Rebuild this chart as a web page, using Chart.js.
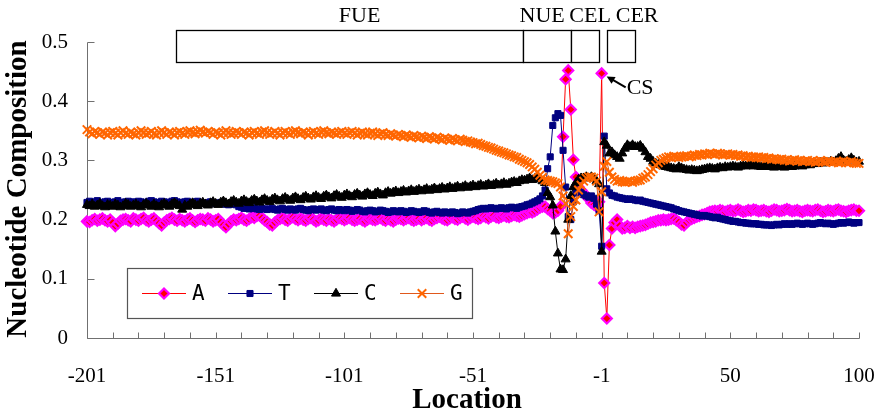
<!DOCTYPE html>
<html><head><meta charset="utf-8">
<script src="https://cdn.jsdelivr.net/npm/chart.js@4/dist/chart.umd.min.js"></script>
<style>html,body{margin:0;padding:0;background:#fff;}canvas{display:block}</style>
</head><body>
<canvas id="c" width="884" height="418"></canvas>
<script>
// Categories: positions -201..-1 and 1..100 (no 0)
const locations = [];
for (let v = -201; v <= 100; v++) if (v !== 0) locations.push(v);
const xTickLabels = [-201, -151, -101, -51, -1, 50, 100];
const yTickValues = [0, 0.1, 0.2, 0.3, 0.4, 0.5];
const seriesNames = ['A', 'T', 'C', 'G'];

const seriesA = [
.197,.196,.199,.201,.198,.200,.202,.199,.197,.200,
.195,.189,.193,.198,.200,.201,.199,.197,.202,.200,
.198,.201,.203,.199,.197,.200,.202,.198,.194,.190,
.195,.199,.201,.203,.200,.198,.201,.199,.197,.200,
.202,.199,.196,.199,.201,.200,.198,.202,.200,.197,
.199,.201,.196,.191,.187,.192,.197,.200,.199,.201,
.203,.200,.198,.201,.204,.203,.206,.207,.203,.199,
.196,.192,.190,.195,.199,.201,.203,.200,.198,.202,
.204,.201,.199,.202,.200,.198,.201,.203,.200,.197,
.199,.202,.200,.198,.201,.199,.197,.200,.203,.201,
.199,.201,.203,.200,.198,.200,.202,.199,.197,.200,
.202,.200,.199,.201,.203,.200,.198,.201,.199,.197,
.200,.202,.201,.199,.201,.203,.200,.198,.200,.202,
.199,.201,.203,.200,.198,.201,.203,.205,.202,.200,
.199,.202,.204,.201,.200,.203,.205,.202,.200,.203,
.205,.203,.201,.203,.206,.204,.202,.205,.207,.204,
.203,.205,.207,.205,.204,.206,.208,.206,.205,.207,
.209,.211,.213,.212,.214,.217,.220,.222,.222,.218,
.215,.211,.212,.215,.222,.340,.437,.452,.386,.301,
.272,.255,.250,.245,.240,.235,.228,.225,.222,.230,
.447,.093,.033,.157,.185,.195,.200,.190,.185,.186,
.189,.186,.188,.186,.188,.189,.190,.191,.193,.195,
.196,.197,.199,.199,.200,.199,.200,.201,.202,.199,
.196,.192,.190,.195,.199,.201,.203,.205,.206,.208,
.209,.211,.213,.214,.215,.214,.216,.215,.213,.215,
.216,.214,.215,.217,.215,.213,.214,.216,.215,.217,
.216,.214,.215,.216,.214,.213,.215,.217,.216,.214,
.215,.216,.218,.216,.214,.215,.216,.214,.213,.215,
.216,.215,.214,.216,.217,.215,.213,.214,.216,.215,
.214,.216,.217,.215,.214,.213,.215,.216,.217,.215,
.215];

const seriesT = [
.229,.231,.228,.230,.232,.229,.227,.230,.231,.229,
.228,.230,.232,.229,.227,.230,.231,.228,.230,.229,
.231,.230,.228,.229,.231,.232,.230,.228,.229,.231,
.230,.228,.229,.231,.232,.230,.228,.229,.230,.231,
.229,.228,.230,.231,.229,.228,.227,.229,.230,.228,
.227,.228,.229,.227,.226,.225,.226,.227,.225,.222,
.221,.219,.220,.218,.219,.220,.218,.217,.219,.218,
.217,.218,.219,.217,.216,.218,.219,.217,.216,.218,
.217,.216,.218,.219,.217,.216,.215,.217,.218,.216,
.217,.218,.216,.215,.217,.218,.216,.215,.217,.216,
.215,.217,.216,.214,.215,.217,.216,.214,.213,.215,
.216,.215,.213,.214,.216,.215,.214,.212,.213,.215,
.214,.213,.215,.214,.212,.213,.215,.214,.213,.212,
.213,.215,.214,.212,.211,.213,.214,.212,.211,.213,
.212,.211,.213,.212,.210,.211,.213,.212,.211,.213,
.214,.215,.217,.218,.219,.218,.219,.220,.219,.218,
.219,.220,.219,.218,.220,.221,.220,.219,.221,.222,
.223,.225,.226,.228,.230,.232,.235,.240,.250,.286,
.306,.359,.372,.379,.376,.317,.255,.205,.200,.230,
.245,.250,.246,.242,.240,.238,.240,.236,.226,.215,
.155,.341,.252,.245,.241,.240,.238,.237,.236,.235,
.234,.235,.234,.233,.232,.233,.231,.230,.229,.228,
.227,.226,.225,.224,.223,.222,.221,.220,.218,.217,
.215,.214,.213,.212,.211,.210,.209,.208,.207,.206,
.207,.206,.205,.204,.203,.204,.202,.201,.200,.199,
.198,.197,.197,.196,.195,.195,.194,.194,.193,.193,
.193,.192,.192,.191,.191,.191,.190,.191,.192,.191,
.192,.193,.192,.193,.192,.193,.194,.193,.192,.193,
.194,.193,.192,.193,.194,.195,.194,.193,.194,.193,
.192,.193,.194,.195,.194,.195,.196,.195,.194,.195,
.195];

const seriesC = [
.225,.223,.226,.222,.224,.227,.223,.221,.225,.224,
.222,.226,.224,.221,.223,.227,.225,.222,.224,.226,
.223,.221,.225,.227,.224,.222,.226,.223,.221,.225,
.227,.224,.222,.226,.228,.225,.223,.217,.224,.222,
.226,.228,.225,.223,.227,.229,.226,.224,.228,.230,
.227,.225,.229,.231,.228,.226,.230,.232,.229,.227,
.231,.233,.230,.228,.232,.234,.231,.229,.233,.235,
.232,.230,.234,.236,.233,.231,.235,.237,.234,.232,
.236,.238,.235,.233,.237,.239,.236,.234,.238,.240,
.237,.235,.239,.241,.238,.236,.240,.242,.239,.237,
.241,.243,.240,.238,.242,.244,.241,.239,.243,.245,
.242,.240,.244,.246,.243,.241,.245,.247,.244,.246,
.248,.245,.247,.249,.246,.248,.250,.247,.249,.251,
.248,.250,.252,.249,.251,.253,.250,.252,.254,.251,
.253,.255,.252,.254,.256,.253,.255,.257,.254,.256,
.258,.255,.257,.259,.256,.258,.260,.257,.259,.261,
.258,.260,.262,.259,.261,.263,.264,.262,.265,.267,
.266,.268,.270,.267,.269,.271,.268,.265,.262,.245,
.238,.224,.180,.143,.116,.115,.133,.200,.240,.255,
.262,.268,.270,.270,.272,.270,.272,.270,.265,.260,
.146,.331,.325,.312,.314,.309,.306,.303,.312,.320,
.326,.323,.326,.323,.323,.325,.320,.314,.306,.303,
.298,.295,.293,.292,.290,.289,.288,.287,.286,.285,
.289,.287,.285,.284,.283,.284,.283,.282,.283,.284,
.285,.286,.287,.286,.285,.287,.288,.287,.289,.288,
.289,.290,.289,.288,.290,.291,.290,.292,.291,.290,
.291,.290,.289,.290,.291,.289,.290,.288,.289,.290,
.289,.288,.290,.291,.289,.290,.292,.291,.290,.292,
.293,.292,.294,.295,.294,.296,.295,.297,.296,.298,
.297,.299,.303,.306,.300,.298,.301,.304,.300,.297,
.298];

const seriesG = [
.352,.348,.345,.349,.347,.344,.348,.346,.343,.347,
.349,.346,.343,.347,.350,.346,.344,.348,.345,.343,
.347,.350,.347,.344,.346,.349,.345,.343,.347,.350,
.347,.344,.348,.346,.343,.347,.349,.346,.344,.348,
.350,.347,.345,.348,.351,.348,.346,.349,.347,.344,
.348,.346,.343,.347,.350,.347,.344,.346,.349,.347,
.344,.348,.346,.343,.347,.349,.346,.344,.348,.350,
.347,.344,.346,.349,.346,.343,.347,.349,.346,.344,
.348,.350,.347,.345,.348,.346,.343,.347,.349,.346,
.344,.348,.350,.347,.345,.348,.346,.344,.347,.349,
.346,.344,.347,.349,.346,.343,.346,.348,.345,.343,
.346,.348,.345,.342,.345,.347,.344,.342,.345,.343,
.341,.344,.342,.340,.343,.341,.339,.342,.340,.338,
.341,.339,.337,.340,.338,.336,.339,.337,.335,.338,
.336,.334,.337,.335,.333,.336,.334,.332,.333,.331,
.330,.328,.329,.327,.325,.324,.322,.321,.319,.317,
.316,.314,.313,.311,.309,.308,.306,.305,.302,.300,
.298,.296,.293,.289,.285,.280,.275,.271,.267,.266,
.265,.264,.262,.261,.255,.240,.227,.176,.205,.222,
.233,.250,.258,.265,.270,.272,.272,.270,.265,.213,
.247,.290,.298,.280,.272,.268,.265,.266,.264,.263,
.264,.265,.263,.265,.266,.267,.270,.272,.276,.281,
.286,.292,.296,.300,.302,.304,.306,.305,.307,.306,
.305,.306,.307,.308,.306,.307,.309,.308,.310,.309,
.311,.310,.312,.311,.310,.312,.311,.309,.310,.311,
.309,.310,.308,.309,.307,.308,.306,.307,.305,.306,
.305,.306,.304,.305,.303,.304,.302,.303,.302,.301,
.302,.300,.301,.299,.300,.301,.299,.300,.298,.299,
.300,.298,.299,.297,.298,.300,.298,.297,.299,.298,
.297,.298,.296,.297,.299,.297,.296,.298,.296,.295,
.295];

// Annotated regions (in location units)
const regions = [
  {label: 'FUE', from: -166.4, to: -31.5},
  {label: 'NUE', from: -31.5, to: -12.9},
  {label: 'CEL', from: -12.9, to: -2},
  {label: 'CER', from: 2.1, to: 13}
];
const csLocation = -1;

const locToIdx = l => l < 0 ? l + 201 : l + 200;
const SERIF = '"Liberation Serif", "Times New Roman", serif';

const styles = [
  {line: '#FF0000', fill: '#FF0000', border: '#FF00FF', style: 'rectRot', r: 5, bw: 2.2},
  {line: '#000080', fill: '#000080', border: '#000080', style: 'rect', r: 4.3, bw: 1},
  {line: '#000000', fill: '#000000', border: '#000000', style: 'triangle', r: 5.2, bw: 1},
  {line: '#E0581C', fill: '#FF6600', border: '#FF6600', style: 'crossRot', r: 6, bw: 2}
];
const allSeries = [seriesA, seriesT, seriesC, seriesG];

const datasets = allSeries.map((d, i) => ({
  label: seriesNames[i],
  data: d,
  borderColor: styles[i].line,
  borderWidth: 1,
  backgroundColor: styles[i].fill,
  pointBackgroundColor: styles[i].fill,
  pointBorderColor: styles[i].border,
  pointBorderWidth: styles[i].bw,
  pointStyle: styles[i].style,
  pointRadius: styles[i].r,
  tension: 0,
  clip: false,
  order: 4 - i
}));

const labelShift = {FUE: 10, NUE: -5, CEL: 5, CER: 16};

const deco = {
  id: 'deco',
  beforeDatasetsDraw(chart) {
    const {ctx, chartArea: ca, scales: {x, y}} = chart;
    ctx.save();
    ctx.strokeStyle = '#707070';
    ctx.lineWidth = 1;
    ctx.beginPath();
    const x0 = Math.round(ca.left) + 0.5, yb = Math.round(ca.bottom) + 0.5;
    ctx.moveTo(x0, Math.round(y.getPixelForValue(0.5)) + 0.5);
    ctx.lineTo(x0, yb);
    ctx.lineTo(Math.round(ca.right) + 0.5, yb);
    for (let i = 0; i < locations.length; i += 10) {
      const px = Math.round(x.getPixelForValue(i)) + 0.5;
      ctx.moveTo(px, yb); ctx.lineTo(px, yb - 6);
    }
    yTickValues.forEach(v => {
      const py = Math.round(y.getPixelForValue(v)) + 0.5;
      ctx.moveTo(x0, py); ctx.lineTo(x0 + 7, py);
    });
    ctx.stroke();
    ctx.restore();
  },
  afterDraw(chart) {
    const {ctx, chartArea: ca, scales: {x, y}} = chart;
    ctx.save();
    // region boxes
    ctx.strokeStyle = '#000'; ctx.lineWidth = 1.3;
    ctx.font = '22px ' + SERIF;
    ctx.textAlign = 'center'; ctx.textBaseline = 'alphabetic';
    const bt = 30, bb = 62;
    regions.forEach(r => {
      const l = x.getPixelForValue(locToIdx(r.from));
      const rr = x.getPixelForValue(locToIdx(r.to));
      ctx.fillStyle = '#fff';
      ctx.fillRect(l, bt, rr - l, bb - bt);
      ctx.strokeRect(Math.round(l) + 0.5, bt + 0.5, Math.round(rr - l), bb - bt);
    });
    ctx.fillStyle = '#000';
    regions.forEach(r => {
      const l = x.getPixelForValue(locToIdx(r.from));
      const rr = x.getPixelForValue(locToIdx(r.to));
      ctx.fillText(r.label, (l + rr) / 2 + labelShift[r.label], 22);
    });
    // CS annotation
    const ci = locToIdx(csLocation);
    const px = x.getPixelForValue(ci), py = y.getPixelForValue(seriesA[ci]);
    const tipX = px + 5, tipY = py + 3, tailX = px + 24, tailY = py + 14;
    ctx.strokeStyle = '#000'; ctx.lineWidth = 2;
    ctx.beginPath(); ctx.moveTo(tailX, tailY); ctx.lineTo(tipX + 4, tipY + 2.3); ctx.stroke();
    const ang = Math.atan2(tipY - tailY, tipX - tailX);
    ctx.beginPath();
    ctx.moveTo(tipX, tipY);
    ctx.lineTo(tipX - 8 * Math.cos(ang) + 4 * Math.sin(ang), tipY - 8 * Math.sin(ang) - 4 * Math.cos(ang));
    ctx.lineTo(tipX - 8 * Math.cos(ang) - 4 * Math.sin(ang), tipY - 8 * Math.sin(ang) + 4 * Math.cos(ang));
    ctx.closePath(); ctx.fill();
    ctx.textAlign = 'left'; ctx.textBaseline = 'middle';
    ctx.fillText('CS', px + 25, py + 15);
    // legend
    const lx = 127, ly = 268, lw = 345, lh = 50;
    ctx.fillStyle = '#fff'; ctx.fillRect(lx, ly, lw, lh);
    ctx.strokeStyle = '#555'; ctx.lineWidth = 1.2;
    ctx.strokeRect(lx + 0.5, ly + 0.5, lw, lh);
    const cy = 293.5;
    [142, 228, 314, 400].forEach((sx, i) => {
      const s = styles[i];
      ctx.strokeStyle = s.line; ctx.lineWidth = 1;
      ctx.beginPath(); ctx.moveTo(sx, cy); ctx.lineTo(sx + 44, cy); ctx.stroke();
      ctx.fillStyle = s.fill; ctx.strokeStyle = s.border; ctx.lineWidth = s.bw;
      Chart.helpers.drawPoint(ctx, {pointStyle: s.style, radius: s.r, borderWidth: s.bw, rotation: 0}, sx + 22, cy);
      ctx.fillStyle = '#000';
      ctx.font = '21px "Liberation Sans Narrow", "DejaVu Sans Mono", monospace';
      ctx.textAlign = 'left'; ctx.textBaseline = 'middle';
      ctx.fillText(seriesNames[i], sx + 50, cy + 1);
    });
    // axis titles
    ctx.fillStyle = '#000';
    ctx.font = 'bold 29px ' + SERIF;
    ctx.textAlign = 'center'; ctx.textBaseline = 'middle';
    ctx.fillText('Location', 467, 401);
    ctx.save();
    ctx.translate(19, 189); ctx.rotate(-Math.PI / 2);
    ctx.fillText('Nucleotide Composition', 0, 0);
    ctx.restore();
    ctx.restore();
  }
};

Chart.defaults.font.family = SERIF;
Chart.defaults.color = '#000';

new Chart(document.getElementById('c'), {
  type: 'line',
  data: {labels: locations, datasets},
  options: {
    responsive: false,
    animation: false,
    events: [],
    layout: {padding: {top: 42, right: 25, left: 0, bottom: 0}},
    plugins: {legend: {display: false}, tooltip: {enabled: false}},
    scales: {
      x: {
        type: 'category',
        offset: false,
        grid: {display: false, drawTicks: false},
        border: {display: false},
        ticks: {
          autoSkip: false, maxRotation: 0, minRotation: 0, padding: 26,
          font: {size: 21, family: SERIF}, color: '#000',
          callback: (v, i) => xTickLabels.includes(locations[i]) ? String(locations[i]) : ''
        },
        afterFit: s => { s.height = 80; s.paddingLeft = 0; s.paddingRight = 0; }
      },
      y: {
        min: 0, max: 0.5,
        grid: {display: false, drawTicks: false},
        border: {display: false},
        ticks: {
          stepSize: 0.1, padding: 19,
          font: {size: 21, family: SERIF}, color: '#000',
          callback: v => { const r = Math.round(v * 10) / 10; return r === 0 ? '0' : r.toFixed(1); }
        },
        afterFit: s => { s.width = 87; s.paddingTop = 0; s.paddingBottom = 0; }
      }
    }
  },
  plugins: [deco]
});
</script>
</body></html>
